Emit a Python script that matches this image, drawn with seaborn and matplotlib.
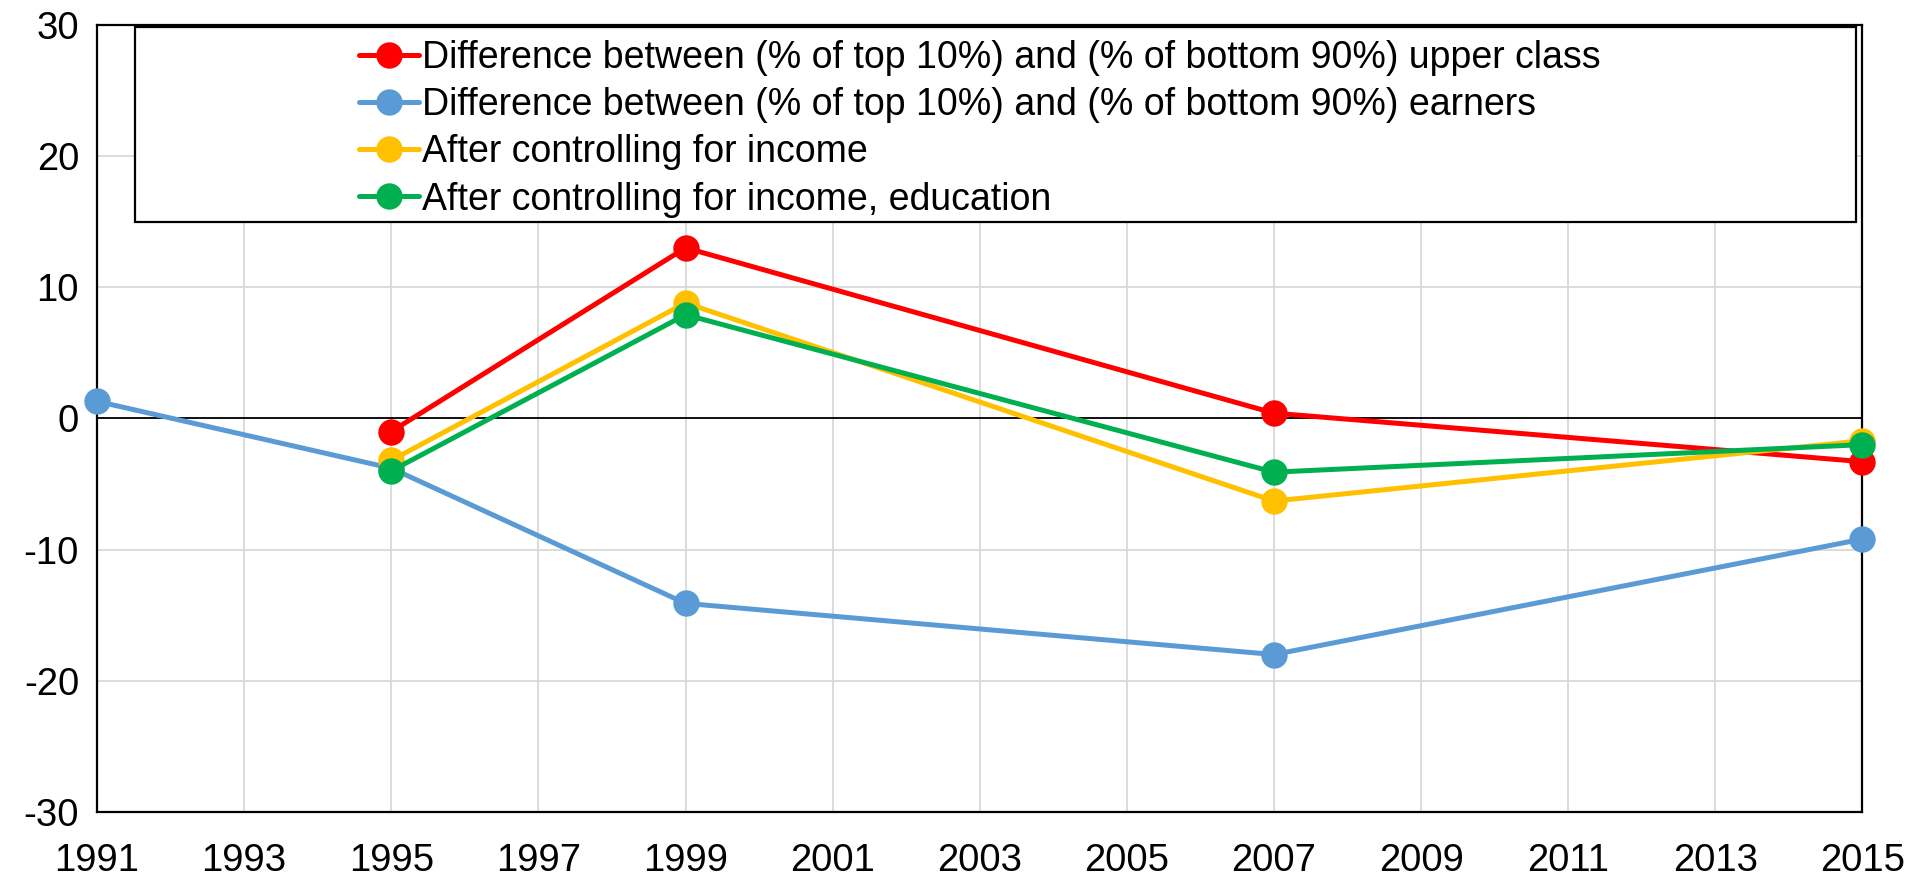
import matplotlib
matplotlib.use('Agg')

import matplotlib.pyplot as plt
import seaborn as sns
from matplotlib.patches import Rectangle

# data
years_upper = [1995, 1999, 2007, 2015]
upper_class = [-1.0, 13.0, 0.4, -3.3]

years_earners = [1991, 1995, 1999, 2007, 2015]
earners = [1.3, -3.8, -14.1, -18.0, -9.2]

years_ctrl = [1995, 1999, 2007, 2015]
ctrl_income = [-3.2, 8.8, -6.3, -1.7]
ctrl_income_edu = [-4.0, 7.9, -4.1, -2.0]

labels = [
    "Difference between (% of top 10%) and (% of bottom 90%) upper class",
    "Difference between (% of top 10%) and (% of bottom 90%) earners",
    "After controlling for income",
    "After controlling for income, education",
]
colors = ["#FF0000", "#5B9BD5", "#FFC000", "#00B050"]
x_ticks = list(range(1991, 2016, 2))
y_ticks = [-30, -20, -10, 0, 10, 20, 30]

sns.set_style("white")
plt.rcParams['font.family'] = ['Liberation Sans', 'DejaVu Sans']
plt.rcParams['axes.unicode_minus'] = False
plt.rcParams['text.color'] = 'black'

fig = plt.figure(figsize=(19.26, 8.85), dpi=100)
ax = fig.add_axes([0.0504, 0.0825, 0.9166, 0.8895])

series = [
    (years_upper, upper_class),
    (years_earners, earners),
    (years_ctrl, ctrl_income),
    (years_ctrl, ctrl_income_edu),
]
for (xs, ys), lab, col in zip(series, labels, colors):
    sns.lineplot(x=xs, y=ys, ax=ax, color=col, label=lab, marker="o",
                 markersize=19, markeredgewidth=0, linewidth=3.6, zorder=3,
                 clip_on=False)

ax.set_xlim(1991, 2015)
ax.set_ylim(-30, 30)
ax.set_xticks(x_ticks)
ax.set_yticks(y_ticks)
ax.tick_params(axis="both", labelsize=27.5, length=0, colors="black")
ax.tick_params(axis="y", pad=13)
ax.tick_params(axis="x", pad=22)
ax.grid(True, color="#D9D9D9", linewidth=1.3)
ax.axhline(0, color="black", linewidth=1.3, zorder=2)
for s in ax.spines.values():
    s.set_color("black")
    s.set_linewidth(1.6)

# legend box (Excel style: wide frame, entries centred)
ax.add_patch(Rectangle((0.0215, 0.749), 0.975, 0.248, transform=ax.transAxes,
                       facecolor="white", edgecolor="black", linewidth=1.6, zorder=4))
leg = ax.legend(loc="center", bbox_to_anchor=(0.500, 0.868), frameon=False,
                fontsize=27, handlelength=1.6, handletextpad=0.1,
                labelspacing=0.3, borderaxespad=0, labelcolor="black")
leg.set_zorder(5)

plt.savefig("out.png", dpi=100)
plt.close(fig)
